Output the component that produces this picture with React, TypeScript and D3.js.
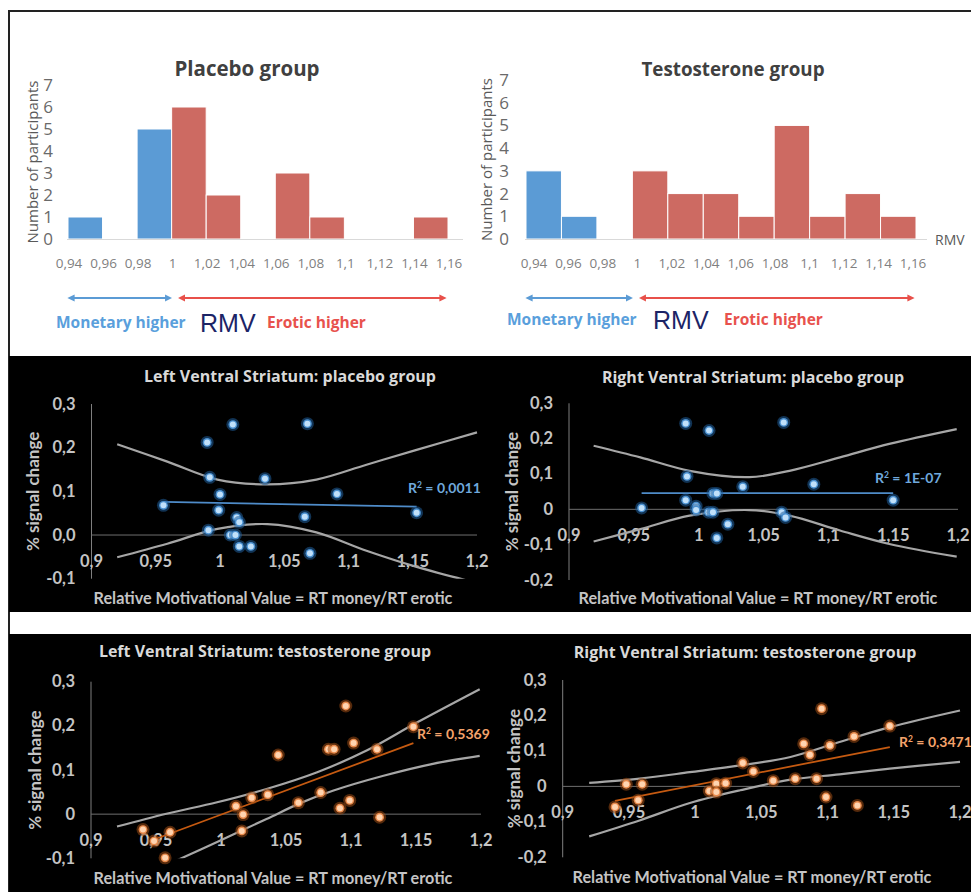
import React from "react";
import { scaleLinear, line, curveCatmullRom } from "d3";

// histogram bins (RMV = RT money / RT erotic)
const rmvEdges = [0.94, 0.96, 0.98, 1.0, 1.02, 1.04, 1.06, 1.08, 1.1, 1.12, 1.14, 1.16];
const rmvEdgeLabels = ["0,94", "0,96", "0,98", "1", "1,02", "1,04", "1,06", "1,08", "1,1", "1,12", "1,14", "1,16"];
const placeboCounts = [1, 0, 5, 6, 2, 0, 3, 1, 0, 0, 1];
const testosteroneCounts = [3, 1, 0, 3, 2, 2, 1, 5, 1, 2, 1];
const countTicks = [0, 1, 2, 3, 4, 5, 6, 7];

// scatter axes
const rmvTicks = [0.9, 0.95, 1.0, 1.05, 1.1, 1.15, 1.2];
const rmvTickLabels = ["0,9", "0,95", "1", "1,05", "1,1", "1,15", "1,2"];
const signalTicksA = [-0.1, 0, 0.1, 0.2, 0.3];
const signalLabelsA = ["-0,1", "0,0", "0,1", "0,2", "0,3"];
const signalLabelsC = ["-0,1", "0", "0,1", "0,2", "0,3"];
const signalTicksB = [-0.2, -0.1, 0, 0.1, 0.2, 0.3];
const signalLabelsB = ["-0,2", "-0,1", "0", "0,1", "0,2", "0,3"];

// Left ventral striatum, placebo
const leftPlaceboPoints = [
  [0.956, 0.068], [0.99, 0.212], [0.992, 0.132], [0.991, 0.011], [1.0, 0.093],
  [0.999, 0.057], [1.01, 0.253], [1.008, 0.0], [1.012, 0.0], [1.013, 0.04],
  [1.015, 0.029], [1.015, -0.026], [1.024, -0.026], [1.035, 0.129], [1.068, 0.255],
  [1.066, 0.042], [1.07, -0.042], [1.091, 0.094], [1.153, 0.051],
];
const leftPlaceboTrend = [[0.956, 0.076], [1.153, 0.065]];
const leftPlaceboUpper = [[0.92, 0.208], [0.959, 0.168], [0.998, 0.127], [1.037, 0.116], [1.075, 0.127], [1.114, 0.161], [1.153, 0.195], [1.2, 0.235]];
const leftPlaceboLower = [[0.92, -0.051], [0.959, -0.02], [0.998, 0.014], [1.037, 0.025], [1.075, 0.006], [1.114, -0.036], [1.153, -0.073], [1.2, -0.11]];

// Right ventral striatum, placebo
const rightPlaceboPoints = [
  [0.956, 0.004], [0.99, 0.243], [0.991, 0.093], [0.99, 0.026], [0.998, 0.009],
  [0.998, -0.002], [1.008, 0.223], [1.0076, -0.008], [1.011, -0.008], [1.011, 0.045],
  [1.014, 0.045], [1.014, -0.081], [1.0225, -0.042], [1.034, 0.064], [1.0656, 0.246],
  [1.064, -0.008], [1.067, -0.023], [1.0888, 0.071], [1.15, 0.026],
];
const rightPlaceboTrend = [[0.956, 0.046], [1.15, 0.046]];
const rightPlaceboUpper = [[0.919, 0.18], [0.955, 0.147], [0.993, 0.109], [1.039, 0.091], [1.07, 0.109], [1.109, 0.147], [1.147, 0.185], [1.199, 0.227]];
const rightPlaceboLower = [[0.919, -0.091], [0.955, -0.056], [0.993, -0.018], [1.039, -0.002], [1.07, -0.018], [1.109, -0.06], [1.147, -0.098], [1.199, -0.134]];

// Left ventral striatum, testosterone
const leftTestoPoints = [
  [0.94, -0.035], [0.9485, -0.061], [0.9608, -0.041], [0.957, -0.099], [1.0115, 0.018],
  [1.017, -0.001], [1.016, -0.038], [1.0236, 0.037], [1.036, 0.044], [1.044, 0.134],
  [1.0595, 0.026], [1.0767, 0.049], [1.0826, 0.147], [1.087, 0.147], [1.0915, 0.0135],
  [1.096, 0.245], [1.099, 0.031], [1.102, 0.161], [1.12, 0.147], [1.122, -0.007],
  [1.148, 0.198],
];
const leftTestoTrend = [[0.948, -0.058], [1.148, 0.161]];
const leftTestoUpper = [[0.92, -0.028], [0.958, 0.001], [0.997, 0.027], [1.035, 0.057], [1.074, 0.095], [1.112, 0.144], [1.151, 0.208], [1.199, 0.283]];
const leftTestoLower = [[0.965, -0.106], [0.997, -0.063], [1.035, -0.011], [1.061, 0.025], [1.086, 0.053], [1.125, 0.087], [1.163, 0.114], [1.199, 0.132]];

// Right ventral striatum, testosterone
const rightTestoPoints = [
  [0.9395, -0.058], [0.948, 0.006], [0.957, -0.039], [0.96, 0.006], [1.0107, -0.013],
  [1.016, 0.0075], [1.016, -0.016], [1.023, 0.009], [1.036, 0.066], [1.044, 0.042],
  [1.059, 0.016], [1.0756, 0.0216], [1.082, 0.12], [1.0867, 0.089], [1.0917, 0.0216],
  [1.0955, 0.219], [1.0988, -0.03], [1.1018, 0.1156], [1.12, 0.141], [1.1225, -0.0536],
  [1.147, 0.17],
];
const rightTestoTrend = [[0.9395, -0.041], [1.147, 0.111]];
const rightTestoUpper = [[0.92, 0.01], [0.958, 0.022], [0.996, 0.04], [1.034, 0.059], [1.072, 0.083], [1.109, 0.125], [1.147, 0.167], [1.2, 0.214]];
const rightTestoLower = [[0.92, -0.141], [0.958, -0.096], [0.996, -0.047], [1.034, -0.011], [1.072, 0.019], [1.109, 0.034], [1.147, 0.05], [1.2, 0.069]];

const BLUE = "#5b9bd5";
const RED = "#cd6a62";
const TITLE_FONT = "'Open Sans', sans-serif";
const AXIS_FONT = "Lato, 'Open Sans', sans-serif";

function Histogram({ counts, title, titleX, titleSize, x0, x1, labX0, labX1, yTop, tickX, yTitleX, lineX1, showRMV, arrowY, textY, textX }) {
  const x = scaleLinear().domain([0.94, 1.16]).range([x0, x1]);
  const xl = scaleLinear().domain([0.94, 1.16]).range([labX0, labX1]);
  const y = scaleLinear().domain([0, 7]).range([239, yTop]);
  const bins = counts.map((c, i) => ({ c, a: rmvEdges[i], b: rmvEdges[i + 1] }));
  const idB = "ab" + Math.round(x0);
  const idR = "ar" + Math.round(x0);
  return (
    <g>
      <defs>
        <marker id={idB} viewBox="0 0 10 10" refX="5" refY="5" markerWidth="4" markerHeight="4" orient="auto-start-reverse">
          <path d="M0,0 L10,5 L0,10 z" fill={BLUE} />
        </marker>
        <marker id={idR} viewBox="0 0 10 10" refX="5" refY="5" markerWidth="4" markerHeight="4" orient="auto-start-reverse">
          <path d="M0,0 L10,5 L0,10 z" fill="#e8504a" />
        </marker>
      </defs>
      <text x={titleX} y={76} textAnchor="middle" fontFamily={TITLE_FONT} fontWeight="700" fontSize={titleSize} fill="#404040">{title}</text>
      {bins.filter(d => d.c > 0).map((d, i) => (
        <rect key={i} x={x(d.a)} y={y(d.c)} width={x(d.b) - x(d.a)} height={y(0) - y(d.c)}
          fill={d.a < 1 ? BLUE : RED} stroke="#fff" strokeWidth="1" />
      ))}
      <line x1={x0 - 1} x2={lineX1} y1={y(0) + 0.5} y2={y(0) + 0.5} stroke="#d9d9d9" />
      {countTicks.map(t => (
        <text key={t} x={tickX} y={y(t) + 6} textAnchor="middle" fontFamily={TITLE_FONT} fontSize="17" fill="#6a6a6a">{t}</text>
      ))}
      <text transform={`translate(${yTitleX},${(y(0) + y(7)) / 2}) rotate(-90)`} textAnchor="middle" dy="5"
        fontFamily={TITLE_FONT} fontSize="15" fill="#595959">Number of participants</text>
      {rmvEdges.map((e, i) => (
        <text key={i} x={xl(e)} y={268} textAnchor="middle" fontFamily={TITLE_FONT} fontSize="13.5" fill="#7f7f7f">{rmvEdgeLabels[i]}</text>
      ))}
      {showRMV && <text x={935} y={245} fontFamily={TITLE_FONT} fontSize="14" fill="#595959">RMV</text>}
      <line x1={x(0.94) + 3} x2={x(1.0) - 3} y1={arrowY} y2={arrowY} stroke={BLUE} strokeWidth="1.8"
        markerStart={`url(#${idB})`} markerEnd={`url(#${idB})`} />
      <line x1={x(1.0) + 10} x2={x(1.16) - 5} y1={arrowY} y2={arrowY} stroke="#e8504a" strokeWidth="1.8"
        markerStart={`url(#${idR})`} markerEnd={`url(#${idR})`} />
      <text x={textX[0]} y={textY} fontFamily={TITLE_FONT} fontWeight="700" fontSize="15.5" fill="#5a9fdc">Monetary higher</text>
      <text x={textX[1]} y={textY + 4} fontFamily="'Liberation Sans', Arial, sans-serif" fontSize="25" fill="#1c2466">RMV</text>
      <text x={textX[2]} y={textY} fontFamily={TITLE_FONT} fontWeight="700" fontSize="15.5" fill="#e8524d">Erotic higher</text>
    </g>
  );
}

function Scatter({ title, titleX, titleY, ax, axEnd, yTop, yBottom, yDomain, yTicks, yLabels, points, trend, upper, lower, orange, r2, r2x, r2y, yTitleX, xTitleX, xTitleY }) {
  const x = scaleLinear().domain([0.9, 1.2]).range([ax, axEnd]);
  const y = scaleLinear().domain(yDomain).range([yBottom, yTop]);
  const ln = line().x(d => x(d[0])).y(d => y(d[1]));
  const band = line().x(d => x(d[0])).y(d => y(d[1])).curve(curveCatmullRom.alpha(0.5));
  const clipId = "clip" + Math.round(ax) + Math.round(yTop);
  const trendColor = orange ? "#c55a11" : "#4f8cc9";
  const labelColor = orange ? "#f4a36b" : "#6fa8dc";
  const halo = orange ? "#9a4a14" : "#1f5c99";
  const ring = orange ? "#e8894a" : "#4a90d0";
  const core = orange ? "#ffd4b0" : "#c0e0fa";
  return (
    <g>
      <defs>
        <clipPath id={clipId}>
          <rect x={ax} y={yTop} width={axEnd - ax + 6} height={yBottom - yTop} />
        </clipPath>
      </defs>
      <text x={titleX} y={titleY} textAnchor="middle" fontFamily={TITLE_FONT} fontWeight="700" fontSize="16" fill="#d9d9d9">{title}</text>
      <line x1={ax} x2={ax} y1={yTop} y2={yBottom} stroke="#7f7f7f" strokeWidth="1" />
      <line x1={ax} x2={axEnd} y1={y(0)} y2={y(0)} stroke="#6f6f6f" strokeWidth="1" />
      {yTicks.map((t, i) => (
        <text key={t} x={ax - 16} y={y(t) + 5.5} textAnchor="end" fontFamily={AXIS_FONT} fontWeight="700" fontSize="16.5" fill="#c4c4c4">{yLabels[i]}</text>
      ))}
      {rmvTicks.map((t, i) => (
        <text key={t} x={x(t)} y={y(0) + 32} textAnchor="middle" fontFamily={AXIS_FONT} fontWeight="700" fontSize="16.5" fill="#c4c4c4">{rmvTickLabels[i]}</text>
      ))}
      <g clipPath={`url(#${clipId})`}>
        <path d={band(upper)} fill="none" stroke="#a6a6a6" strokeWidth="2.2" />
        <path d={band(lower)} fill="none" stroke="#a6a6a6" strokeWidth="2.2" />
      </g>
      <path d={ln(trend)} fill="none" stroke={trendColor} strokeWidth="1.8" />
      {points.map((p, i) => (
        <g key={i}>
          <circle cx={x(p[0])} cy={y(p[1])} r={6.5} fill={halo} opacity="0.55" />
          <circle cx={x(p[0])} cy={y(p[1])} r={4.4} fill={ring} />
          <circle cx={x(p[0])} cy={y(p[1])} r={3} fill={core} />
        </g>
      ))}
      <text x={r2x} y={r2y} fontFamily={AXIS_FONT} fontWeight="700" fontSize="14" fill={labelColor}>
        R<tspan dy="-5" fontSize="8.5">2</tspan><tspan dy="5"> = {r2}</tspan>
      </text>
      <text transform={`translate(${yTitleX},${(yTop + yBottom) / 2}) rotate(-90)`} textAnchor="middle" dy="5"
        fontFamily={AXIS_FONT} fontWeight="700" fontSize="17" fill="#c4c4c4">% signal change</text>
      <text x={xTitleX} y={xTitleY} textAnchor="middle" fontFamily={AXIS_FONT} fontWeight="700" fontSize="16.2" fill="#c4c4c4">Relative Motivational Value = RT money/RT erotic</text>
    </g>
  );
}

export default function App() {
  return (
    <div style={{ position: "absolute", left: 0, top: 0 }}>
      <svg width={971} height={892} style={{ display: "block", background: "#fff" }}>
        {/* frame */}
        <line x1={9} x2={971} y1={11} y2={11} stroke="#222" strokeWidth="2" />
        <line x1={9} x2={9} y1={10} y2={892} stroke="#222" strokeWidth="2" />
        <Histogram counts={placeboCounts} title="Placebo group" titleX={247} titleSize={20.5} x0={68} x1={448} labX0={69} labX1={449}
          yTop={85} tickX={48} yTitleX={33} lineX1={463} showRMV={false} arrowY={298} textY={328} textX={[56, 200, 267]} />
        <Histogram counts={testosteroneCounts} title="Testosterone group" titleX={733} titleSize={18.8} x0={526} x1={916} labX0={534} labX1={913}
          yTop={80} tickX={504} yTitleX={487} lineX1={927} showRMV={true} arrowY={298} textY={325} textX={[507, 653, 724]} />
        <rect x={9} y={356} width={962} height={256} fill="#000" />
        <rect x={9} y={634} width={962} height={258} fill="#000" />
        <Scatter title="Left Ventral Striatum: placebo group" titleX={290} titleY={382} ax={91.5} axEnd={477} yTop={404} yBottom={578.7}
          yDomain={[-0.1, 0.3]} yTicks={signalTicksA} yLabels={signalLabelsA} points={leftPlaceboPoints} trend={leftPlaceboTrend}
          upper={leftPlaceboUpper} lower={leftPlaceboLower} orange={false} r2="0,0011" r2x={408} r2y={493}
          yTitleX={34} xTitleX={273} xTitleY={604} />
        <Scatter title="Right Ventral Striatum: placebo group" titleX={753} titleY={383} ax={569} axEnd={958} yTop={403.3} yBottom={580}
          yDomain={[-0.2, 0.3]} yTicks={signalTicksB} yLabels={signalLabelsB} points={rightPlaceboPoints} trend={rightPlaceboTrend}
          upper={rightPlaceboUpper} lower={rightPlaceboLower} orange={false} r2="1E-07" r2x={875} r2y={483}
          yTitleX={513} xTitleX={758} xTitleY={604} />
        <Scatter title="Left Ventral Striatum: testosterone group" titleX={265} titleY={657} ax={91} axEnd={481} yTop={681.7} yBottom={858.3}
          yDomain={[-0.1, 0.3]} yTicks={signalTicksA} yLabels={signalLabelsC} points={leftTestoPoints} trend={leftTestoTrend}
          upper={leftTestoUpper} lower={leftTestoLower} orange={true} r2="0,5369" r2x={417} r2y={739}
          yTitleX={36} xTitleX={273} xTitleY={884} />
        <Scatter title="Right Ventral Striatum: testosterone group" titleX={745} titleY={658} ax={562.7} axEnd={960} yTop={680} yBottom={857.3}
          yDomain={[-0.2, 0.3]} yTicks={signalTicksB} yLabels={signalLabelsB} points={rightTestoPoints} trend={rightTestoTrend}
          upper={rightTestoUpper} lower={rightTestoLower} orange={true} r2="0,3471" r2x={899} r2y={747}
          yTitleX={515} xTitleX={752} xTitleY={883} />
      </svg>
    </div>
  );
}
